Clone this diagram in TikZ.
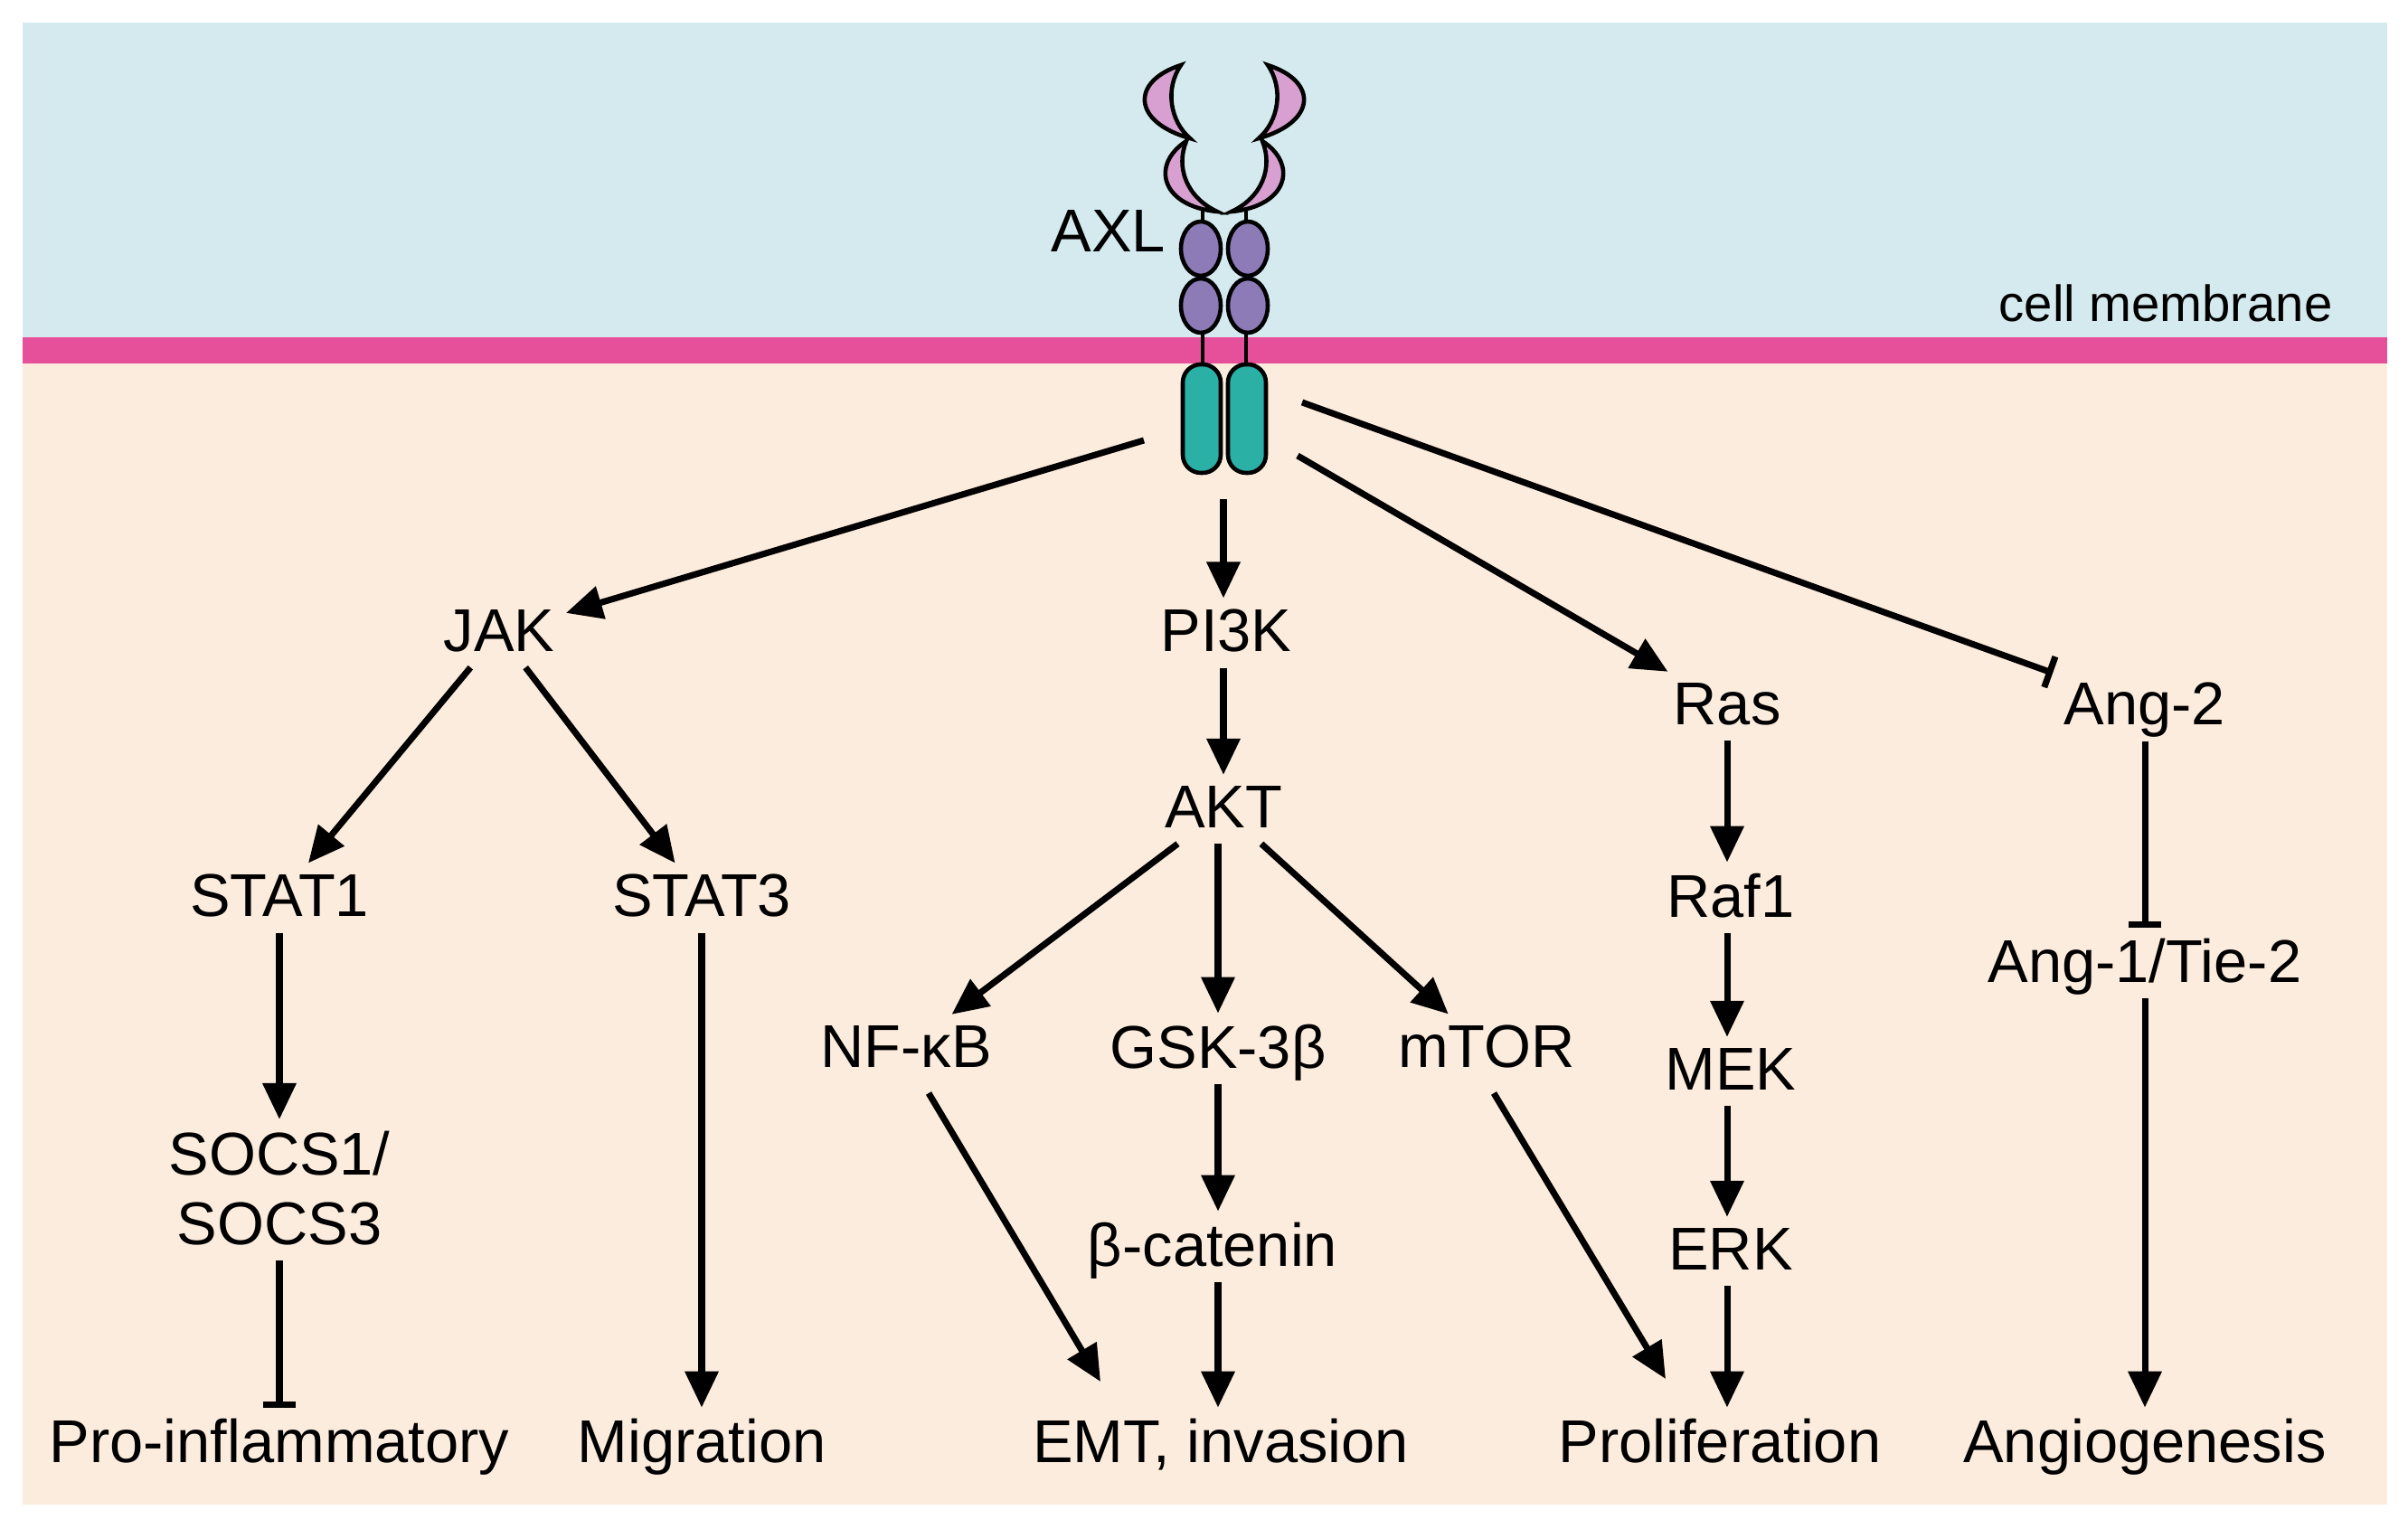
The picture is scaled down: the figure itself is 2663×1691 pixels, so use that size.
\documentclass[tikz,border=0pt]{standalone}
\usepackage{fontspec}
\setmainfont{Liberation Sans}
\usetikzlibrary{arrows.meta}
\definecolor{bgblue}{HTML}{D4EAEE}
\definecolor{memb}{HTML}{E6509A}
\definecolor{peach}{HTML}{FCECDD}
\definecolor{cres}{HTML}{D8A0D0}
\definecolor{ovl}{HTML}{8C7BB6}
\definecolor{teal}{HTML}{2BB0A6}
\begin{document}
\begin{tikzpicture}[x=0.01cm,y=-0.01cm,
  lab/.style={font=\fontsize{19}{22}\selectfont, inner sep=0.12cm, text depth=0.05cm},
  act/.style={line width=2pt, -{Triangle[length=0.4cm,width=0.36cm]}},
  inh/.style={line width=2pt, -{Bar[width=0.36cm,line width=2pt]}},
  dom/.style={draw=black, line width=1.3pt}]
\useasboundingbox (0,0) rectangle (2663,1691);
\fill[white] (0,0) rectangle (2663,1691);
\fill[bgblue] (25,25) rectangle (2640,375);
\fill[peach] (25,400) rectangle (2640,1664);
\fill[memb] (25,373) rectangle (2640,402);
\node[font=\fontsize{16}{19}\selectfont, anchor=east] (cm) at (2592,335) {cell membrane};
% receptor
\foreach \s/\o in {1/0, -1/2708}{
 \begin{scope}[xshift=\o*0.01cm, xscale=\s]
  \draw[line width=1.3pt] (1330,232) -- (1330,250);
  \draw[line width=1.3pt] (1330,360) -- (1330,410);
  \filldraw[dom, fill=cres] (1306,72) .. controls (1250,90) and (1252,135) .. (1316,153)
     .. controls (1294,134) and (1288,98) .. (1306,72) -- cycle;
  \filldraw[dom, fill=cres] (1312,156) .. controls (1272,182) and (1284,228) .. (1346,234)
     .. controls (1312,218) and (1300,185) .. (1312,156) -- cycle;
  \filldraw[dom, fill=ovl] (1328,275) ellipse (22 and 30);
  \filldraw[dom, fill=ovl] (1328,338) ellipse (22 and 30);
  \filldraw[dom, fill=teal, rounded corners=0.2cm] (1308,403) rectangle (1350,523);
 \end{scope}}
\node[lab] (axl) at (1226,258) {AXL};
\coordinate (r1) at (1265,487);
\coordinate (r2) at (1353,552);
\coordinate (r3) at (1435,504);
\coordinate (r4) at (1440,445);
% nodes
\node[lab] (jak) at (552,700) {JAK};
\node[lab] (pi3k) at (1356,700) {PI3K};
\node[lab] (akt) at (1353,895) {AKT};
\node[lab] (ras) at (1910,781) {Ras};
\node[lab] (ang2) at (2372,781) {Ang-2};
\node[lab] (stat1) at (309,993) {STAT1};
\node[lab] (stat3) at (776,993) {STAT3};
\node[lab, align=center] (socs) at (309,1316) {SOCS1/\\SOCS3};
\node[lab] (nfkb) at (1002,1160) {NF-κB};
\node[lab] (gsk) at (1347,1160) {GSK-3β};
\node[lab] (mtor) at (1644,1160) {mTOR};
\node[lab] (bcat) at (1341,1379) {β-catenin};
\node[lab] (raf) at (1914,993) {Raf1};
\node[lab] (mek) at (1914,1185) {MEK};
\node[lab] (erk) at (1914,1384) {ERK};
\node[lab] (ang1) at (2372,1065) {Ang-1/Tie-2};
\node[lab] (pro) at (309,1596) {Pro-inflammatory};
\node[lab] (mig) at (776,1596) {Migration};
\node[lab] (emt) at (1350,1596) {EMT, invasion};
\node[lab] (prol) at (1902,1596) {Proliferation};
\node[lab] (angio) at (2372,1596) {Angiogenesis};
\coordinate (n1) at (1027,1209);
\coordinate (n2) at (1217,1528);
\coordinate (m1) at (1652,1209);
\coordinate (m2) at (1842,1525);
% connectors
\draw[act] (r1) -- (jak);
\draw[act] (r2) -- (r2 |- pi3k.north);
\draw[act] (r3) -- (ras);
\draw[inh] (r4) -- (ang2);
\draw[act] (jak) -- (stat1);
\draw[act] (jak) -- (stat3);
\draw[act] (stat1.south) -- (stat1.south |- socs.north);
\draw[inh] (socs.south) -- (socs.south |- pro.north);
\draw[act] (stat3.south) -- (stat3.south |- mig.north);
\draw[act] (akt.north |- pi3k.south) -- (akt.north);
\draw[act] (akt) -- (nfkb);
\draw[act] (gsk.north |- akt.south) -- (gsk.north);
\draw[act] (akt) -- (mtor);
\draw[act] (n1) -- (n2);
\draw[act] (gsk.south) -- (gsk.south |- bcat.north);
\draw[act] (gsk.south |- bcat.south) -- (gsk.south |- emt.north);
\draw[act] (m1) -- (m2);
\draw[act] (ras.south) -- (ras.south |- raf.north);
\draw[act] (ras.south |- raf.south) -- (ras.south |- mek.north);
\draw[act] (ras.south |- mek.south) -- (ras.south |- erk.north);
\draw[act] (ras.south |- erk.south) -- (ras.south |- prol.north);
\draw[inh] (ang2.south) -- (ang2.south |- ang1.north);
\draw[act] (ang1.south) -- (ang1.south |- angio.north);
\end{tikzpicture}
\end{document}
